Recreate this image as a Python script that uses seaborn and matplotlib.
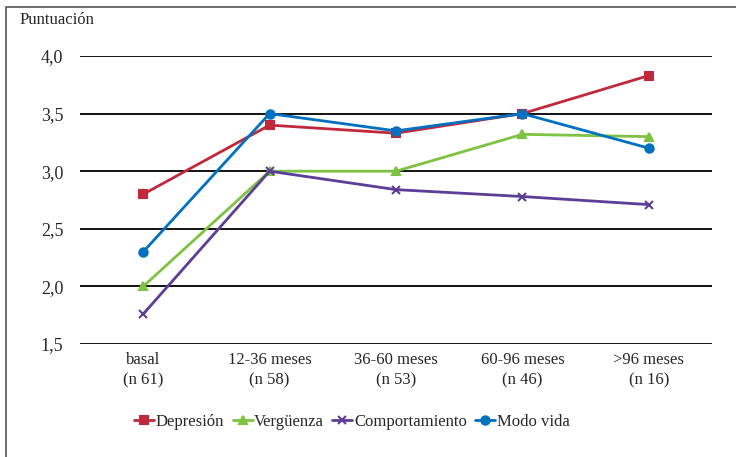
import seaborn as sns
import pandas as pd
import matplotlib.pyplot as plt
from matplotlib.patches import Rectangle

# datos
periodos = ["basal\n(n 61)", "12-36 meses\n(n 58)", "36-60 meses\n(n 53)",
            "60-96 meses\n(n 46)", ">96 meses\n(n 16)"]
depresion = [2.8, 3.4, 3.33, 3.5, 3.83]
verguenza = [2.0, 3.0, 3.0, 3.32, 3.3]
comportamiento = [1.76, 3.0, 2.84, 2.78, 2.71]
modo_vida = [2.3, 3.5, 3.35, 3.5, 3.2]
series = ["Depresión", "Vergüenza", "Comportamiento", "Modo vida"]
y_ticks = [1.5, 2.0, 2.5, 3.0, 3.5, 4.0]

valores = {"Depresión": depresion, "Vergüenza": verguenza,
           "Comportamiento": comportamiento, "Modo vida": modo_vida}
colores = {"Depresión": "#C0283C", "Vergüenza": "#7DC242",
           "Comportamiento": "#5B3E96", "Modo vida": "#0070C0"}
marcas = {"Depresión": "s", "Vergüenza": "^",
          "Comportamiento": "x", "Modo vida": "o"}

sns.set_style("white")
plt.rcParams["font.family"] = ["Liberation Serif", "DejaVu Serif"]

fig = plt.figure(figsize=(7.36, 4.57), dpi=100)
ax = fig.add_axes([80 / 736, 1 - 344 / 457, 632 / 736, 288 / 457])

for s in series:
    df = pd.DataFrame({"periodo": periodos, "valor": valores[s]})
    sns.lineplot(data=df, x="periodo", y="valor", sort=False, color=colores[s],
                 marker=marcas[s], markersize=6, markeredgewidth=1.5,
                 markeredgecolor=colores[s], linewidth=2, label=s, ax=ax,
                 zorder=3)

for v in y_ticks:
    ax.axhline(v, color="black", linewidth=1.3, zorder=1)

ax.set_ylim(1.5, 4.0)
ax.set_xlim(-0.5, 4.5)
ax.set_yticks(y_ticks)
ax.set_yticklabels([f"{v:.1f}".replace(".", ",") for v in y_ticks], fontsize=13)
ax.tick_params(axis="x", labelsize=12, pad=6, length=0)
ax.tick_params(axis="y", pad=12, length=0)
for t in ax.get_xticklabels():
    t.set_linespacing(1.35)
ax.set_xlabel("")
ax.set_ylabel("")
for sp in ax.spines.values():
    sp.set_visible(False)

fig.text(20 / 736, 1 - 20 / 457, "Puntuación", fontsize=12, va="center", ha="left")

h, l = ax.get_legend_handles_labels()
ax.legend_.remove()
fig.legend(h, l, loc="center", bbox_to_anchor=(352 / 736, 1 - 422 / 457),
           ncol=4, frameon=False, fontsize=12, handlelength=1.2,
           handletextpad=0.1, columnspacing=0.5)

fig.patches.append(Rectangle((6 / 736, -0.1), 1.0, 1 - 7 / 457 + 0.1,
                             transform=fig.transFigure, fill=False,
                             edgecolor="#555555", linewidth=1.2))

fig.savefig("out.png", dpi=100)
